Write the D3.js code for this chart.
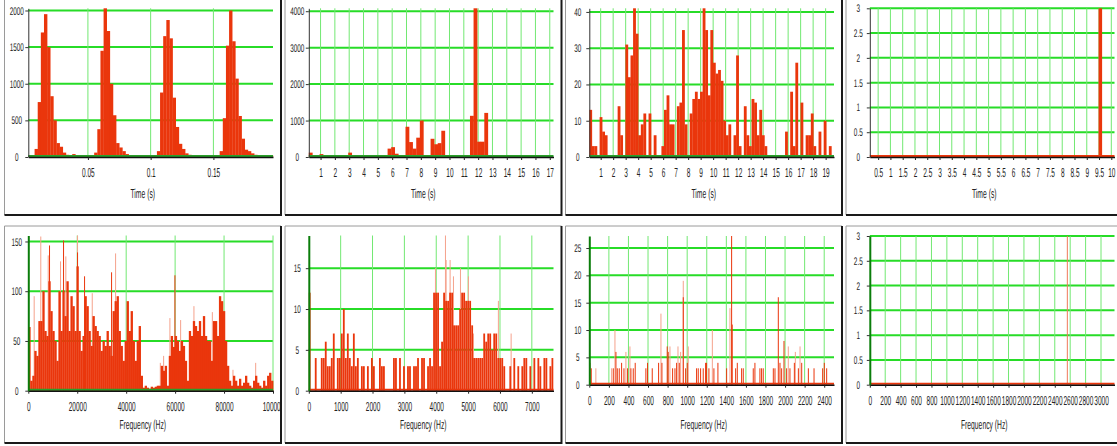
<!DOCTYPE html>
<html><head><meta charset="utf-8">
<script src="https://cdn.jsdelivr.net/npm/d3@7"></script>
<style>
body{margin:0;background:#fff}
svg{display:block}
text{font-family:"Liberation Sans",Arial,sans-serif;fill:#222;text-rendering:geometricPrecision}
</style>
</head><body>
<svg width="1117" height="446"></svg>
<script>
// ---- histogram data (top row) ----
const p1Start=0.0025,p1Step=0.0025
const p1Counts=[10,20,110,750,1700,1950,1500,830,500,190,140,60,30,10,40,25,10,10,10,10,
10,60,380,1450,2030,1720,1000,570,190,130,80,40,20,20,10,5,20,5,10,10,
10,80,880,1650,1870,1620,810,410,180,110,50,30,20,20,5,5,5,5,5,10,
20,80,530,1520,2000,1580,1070,560,250,100,80,50,30,10,10,10,10,20]
const p2Start=0.18,p2Step=0.25
const p2Counts=[120,30,30,80,50,10,0,30,30,30,30,120,30,30,30,30,30,30,30,30,
30,30,230,270,90,30,30,830,410,230,530,1000,10,30,500,350,380,720,30,5,
5,5,40,5,5,1130,4080,420,420,1210,5,40,5,5,5,40,40,40,40,40,
40,5,5,5,5,5,5,30]
const p3Start=0.09,p3Step=0.2061
const p3Counts=[13,3,3,0,11,7,6,0,0,0,0,14,6,0,31,22,28,41,34,6,9,12,0,12,0,6,0,0,3,13,
17,9,9,0,14,15,35,9,0,12,16,18,16,18,41,35,17,35,26,23,24,21,10,6,9,0,6,28,3,0,
14,6,3,16,15,6,13,6,3,0,0,0,0,0,0,0,7,0,18,3,26,0,15,0,6,6,12,3,0,7,0,10,0,3,0]
const p4Step=0.135
const p4Starts=[9.48]
const p4Counts=[3]

// ---- spectrum data (bottom row) ----
const p5Step=820
const p5Amp=[64,10,15,40,35,70,70,100,60,55,110,80,60,50,30,100,60,100,75,110,
60,95,85,60,125,60,40,55,95,85,60,45,75,65,60,55,40,50,45,60,
45,35,80,90,95,60,45,30,50,90,60,80,50,30,50,65,15,3,5,3,
2,4,3,4,5,5,25,20,25,5,35,55,44,55,50,40,50,45,30,10,
60,55,70,65,60,70,55,75,55,50,50,30,70,70,55,95,90,80,50,25,
10,5,15,10,5,12,5,8,15,8,5,3,10,15,8,5,3,10,5,15,18,10]
const p5Peaks=[[8670,146],[14400,151],[20120,139],[22990,115],[34030,119],[59920,116]]
const p5Pale=[[2400,95],[5100,155],[8140,136],[13170,130],[15340,135],[20120,156],[26130,98],[35670,138],
[53950,28],[55300,35],[57870,73],[62250,71],[67690,85],[75210,79],[83640,21],[92920,28]]
const p6Step=62.95
const p6Amp=[12,0,0,4,0,0,4,4,6,3,3,4,7,0,4,4,7,10,4,7,4,3,7,3,4,0,3,3,0,3,
0,4,3,0,0,4,3,3,0,0,0,0,4,4,0,4,0,3,0,3,3,0,3,3,4,0,4,4,0,3,
4,3,12,12,12,3,6,12,11,11,12,12,8,8,8,10,12,12,11,11,11,8,4,4,4,4,4,7,6,7,
7,5,7,7,4,4,4,3,0,0,3,0,4,0,3,0,3,4,4,0,3,0,4,0,4,3,0,4,4,0,3,4]
const p6Pale=[[3975,15],[4289,19],[4310,16],[4435,16],[4540,14],[4760,15],[5010,14],[5167,7],[5950,11],[6350,7]]
const p7Freq=[6,20,245,272,286,306,330,354,391,425,449,469,578,595,643,708,742,796,806,851,875,892,919,960,984,1001,
1096,1113,1137,1164,1188,1198,1222,1273,1314,1403,1454,1460,1495,1512,1556,1573,1675,1692,1743,1760,1777,
1880,1897,1931,1948,1965,1989,2016,2050,2095,2136,2170,2238,2296,2384,2401,2425]
const p7Amp=[4,3,3,6,3,3,4,3,3,3,3,4,3,4,3,4,4,7,6,3,3,4,4,16,3,4,
3,3,3,3,4,4,3,3,4,3,27.2,11,3,4,3,3,3,4,3,3,3,
3,3,16,4,3,8,3,3,4,3,4,3,3,3,4,3]
const p7PaleFreq=[67,228,262,374,415,732,824,906,933,960,1011,1257,1437,2033,2105,2153]
const p7PaleAmp=[3,3,10,6,7,13,7,7,6,19,7,10,14,7,6,7]
const p8PaleFreq=[2563]
const p8PaleAmp=[3]

// ---- ticks ----
const p1X=[0.05,0.1,0.15],p1Y=[0,500,1000,1500,2000]
const p2X=[1,2,3,4,5,6,7,8,9,10,11,12,13,14,15,16,17],p2Y=[0,1000,2000,3000,4000]
const p3X=[1,2,3,4,5,6,7,8,9,10,11,12,13,14,15,16,17,18,19],p3Y=[0,10,20,30,40]
const p4X=[0.5,1,1.5,2,2.5,3,3.5,4,4.5,5,5.5,6,6.5,7,7.5,8,8.5,9,9.5,10],p4Y=[0,0.5,1,1.5,2,2.5,3]
const p5X=[0,20000,40000,60000,80000,100000],p5Y=[0,50,100,150]
const p6X=[0,1000,2000,3000,4000,5000,6000,7000],p6Y=[0,5,10,15]
const p7X=[0,200,400,600,800,1000,1200,1400,1600,1800,2000,2200,2400],p7Y=[0,5,10,15,20,25]
const p8X=[0,200,400,600,800,1000,1200,1400,1600,1800,2000,2200,2400,2600,2800,3000],p8Y=[0,0.5,1,1.5,2,2.5,3]

const svg=d3.select("svg")
const RED="#ea360c",PALE="#f5a28c",HG="#27dc27",VG="#72e872",BASEG="#2a9e2a"
const PW=276.5,PH=217

bins=(start,step,counts)=>counts.map((v,i)=>({x0:start+i*step,x1:start+(i+1)*step,v}))
pairs=(fs,as)=>fs.map((f,i)=>[f,as[i]])

drawPanel=(p,id)=>{
svg.append("clipPath").attr("id","c"+id).append("rect")
.attr("x",p.L).attr("y",p.T).attr("width",PW).attr("height",PH)
const g=svg.append("g").attr("clip-path","url(#c"+id+")")
const x=d3.scaleLinear().domain(p.xd).range([p.L+23.8,p.L+268.5])
const ymax=d3.max([...p.bars.map(d=>d.v),...p.red.map(d=>d[1]),...p.pale.map(d=>d[1])])
const y=d3.scaleLinear().domain([0,ymax]).range([p.base,p.top])
const [xa,xb]=x.range()

// grid
g.selectAll(null).data(p.yt.filter(d=>d>0)).join("line")
.attr("x1",xa).attr("x2",xb).attr("y1",d=>y(d)).attr("y2",d=>y(d))
.attr("stroke",HG).attr("stroke-width",2)
g.selectAll(null).data(p.xt.filter(d=>d>p.xd[0]+1e-9)).join("line")
.attr("x1",d=>x(d)).attr("x2",d=>x(d)).attr("y1",p.base).attr("y2",p.top)
.attr("stroke",VG).attr("stroke-width",1)

// pale spectral lines
g.selectAll(null).data(p.pale).join("rect")
.attr("x",d=>x(d[0])-0.5).attr("width",1).attr("y",d=>y(d[1])).attr("height",d=>p.base-y(d[1]))
.attr("fill",p.paleCol||PALE)

// bars
g.selectAll(null).data(p.bars.filter(d=>d.v>0)).join("rect")
.attr("x",d=>x(d.x0)).attr("width",d=>Math.max(1,x(d.x1)-x(d.x0)+p.pad))
.attr("y",d=>y(d.v)).attr("height",d=>p.base-y(d.v)).attr("fill",RED)

// red spectral lines
g.selectAll(null).data(p.red).join("rect")
.attr("x",d=>x(d[0])-0.5).attr("width",1).attr("y",d=>y(d[1])).attr("height",d=>p.base-y(d[1]))
.attr("fill",RED)

// baseline strip
g.append("line").attr("x1",xa).attr("x2",xb).attr("y1",p.base-1).attr("y2",p.base-1)
.attr("stroke",p.strip).attr("stroke-width",2)

// x axis
const gx=g.append("g").attr("transform",`translate(0,${p.base})`).attr("color","#222")
.call(d3.axisBottom(x).tickValues(p.xt).tickSize(3).tickSizeOuter(0).tickFormat(d=>String(d)))
gx.select(".domain").attr("stroke","#111").attr("stroke-width",1.5)
gx.selectAll("text").attr("y",20.3).attr("dy",null).attr("font-size",13)
.attr("transform","scale(0.5,1)")

// y axis
const gy=g.append("g").attr("transform",`translate(${xa},0)`).attr("color","#333")
.call(d3.axisLeft(y).tickValues(p.yt).tickSize(3).tickSizeOuter(0).tickFormat(d=>String(d)))
gy.select(".domain").attr("stroke",p.yCol).attr("stroke-width",p.yW)
gy.selectAll("text").attr("x",0).attr("dy","0.32em").attr("text-anchor","middle").attr("font-size",11)
.attr("transform","translate(-11.5,0) scale(0.58,1)")

// axis title
g.append("text").attr("text-anchor","middle").attr("font-size",13).attr("fill","#222")
.attr("transform",`translate(${p.L+PW/2},${p.titleY}) scale(0.52,1)`).text(p.title)

// frame
svg.append("path").attr("d",`M${p.L},${p.T+PH}V${p.T}H${p.L+PW}`)
.attr("fill","none").attr("stroke","#9a9a9a").attr("stroke-width",1)
svg.append("path").attr("d",`M${p.L+PW},${p.T}V${p.T+PH}H${p.L}`)
.attr("fill","none").attr("stroke","#1a1a1a").attr("stroke-width",2)
}

const cols=[4.5,285,565.5,846]
const topRow={T:-2,base:157,top:8.3,titleY:198,title:"Time (s)",pad:0.25,red:[],pale:[],yCol:"#333",yW:1}
const botRow={T:226,titleY:429,title:"Frequency (Hz)",yCol:"#0b7d0b",yW:2}

const panels=[
{...topRow,L:cols[0],xd:[0.0025,0.1975],xt:p1X,yt:p1Y,bars:bins(p1Start,p1Step,p1Counts),strip:BASEG},
{...topRow,L:cols[1],xd:[0.18,17.26],xt:p2X,yt:p2Y,bars:bins(p2Start,p2Step,p2Counts),strip:BASEG},
{...topRow,L:cols[2],xd:[0.09,19.67],xt:p3X,yt:p3Y,bars:bins(p3Start,p3Step,p3Counts),strip:BASEG},
{...topRow,L:cols[3],xd:[0.16,10.13],xt:p4X,yt:p4Y,
 bars:p4Starts.map((s,i)=>({x0:s,x1:s+p4Step,v:p4Counts[i]})),strip:RED},
{...botRow,L:cols[0],base:390.7,top:235.5,xd:[0,100000],xt:p5X,yt:p5Y,pad:0.3,
 bars:bins(0,p5Step,p5Amp),red:p5Peaks,pale:p5Pale,strip:BASEG},
{...botRow,L:cols[1],base:390.7,top:235.5,xd:[0,7680],xt:p6X,yt:p6Y,pad:-0.2,
 bars:bins(0,p6Step,p6Amp),red:[],pale:p6Pale,strip:RED},
{...botRow,L:cols[2],base:384.7,top:236,xd:[0,2500],xt:p7X,yt:p7Y,pad:0,
 bars:[],red:pairs(p7Freq,p7Amp),pale:pairs(p7PaleFreq,p7PaleAmp),strip:RED},
{...botRow,L:cols[3],base:384.7,top:236,xd:[0,3175],xt:p8X,yt:p8Y,pad:0,
 bars:[],red:[],pale:pairs(p8PaleFreq,p8PaleAmp),paleCol:"#f07a5a",strip:RED}
]
panels.forEach((p,i)=>drawPanel(p,i))
</script>
</body></html>
